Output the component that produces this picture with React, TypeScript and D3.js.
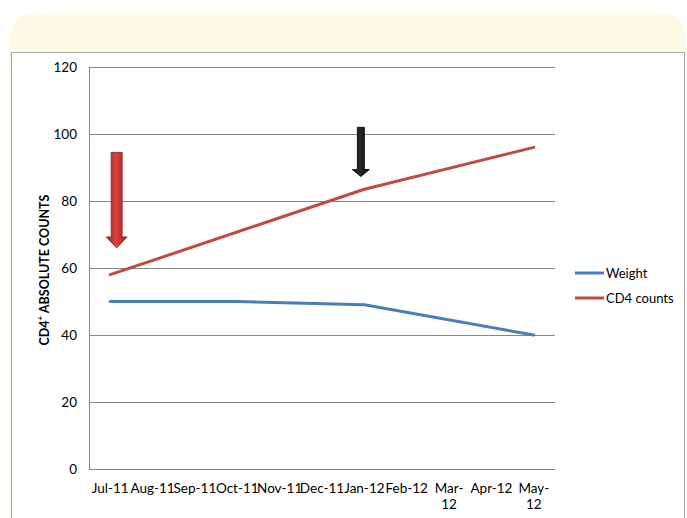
import { useEffect, useRef } from "react";
import * as d3 from "d3";

const months = ["Jul-11", "Aug-11", "Sep-11", "Oct-11", "Nov-11", "Dec-11", "Jan-12", "Feb-12", "Mar-12", "Apr-12", "May-12"];
// Excel wrapped these two labels onto two lines
const wrappedMonths = ["Mar-12", "May-12"];
const weight: (number | null)[] = [50, null, null, 50, null, null, 49, null, null, null, 40];
const cd4: (number | null)[] = [58, null, null, null, null, null, 83.5, null, null, null, 96];
const yTicks = [0, 20, 40, 60, 80, 100, 120];
const seriesNames = ["Weight", "CD4 counts"];

const W = 687;
const H = 518;

export default function App() {
  const svgRef = useRef<SVGSVGElement>(null);

  useEffect(() => {
    if (!svgRef.current) return;
    const svg = d3.select(svgRef.current);
    svg.selectAll("*").remove();

    const font = "Lato, 'Open Sans', sans-serif";
    const margin = { top: 67, left: 89, right: 132, bottom: 49 };
    const plotW = W - margin.left - margin.right;
    const plotH = H - margin.top - margin.bottom;

    const defs = svg.append("defs");
    const redGrad = defs.append("linearGradient").attr("id", "redArrow").attr("x1", 0).attr("x2", 1).attr("y1", 0).attr("y2", 0);
    redGrad.append("stop").attr("offset", "0%").attr("stop-color", "#931f1d");
    redGrad.append("stop").attr("offset", "45%").attr("stop-color", "#d9423e");
    redGrad.append("stop").attr("offset", "100%").attr("stop-color", "#9a2522");
    const darkGrad = defs.append("linearGradient").attr("id", "blackArrow").attr("x1", 0).attr("x2", 1).attr("y1", 0).attr("y2", 0);
    darkGrad.append("stop").attr("offset", "0%").attr("stop-color", "#000");
    darkGrad.append("stop").attr("offset", "45%").attr("stop-color", "#2a2a2a");
    darkGrad.append("stop").attr("offset", "100%").attr("stop-color", "#000");

    // slide banner and frame
    svg.append("rect").attr("x", 10).attr("y", 13).attr("width", 676).attr("height", 80).attr("rx", 22).attr("fill", "#fffae6");
    svg.append("rect").attr("x", 9).attr("y", 52).attr("width", 677).attr("height", 480).attr("fill", "#fffae6");
    svg.append("rect").attr("x", 11.5).attr("y", 52.5).attr("width", 673).attr("height", 480)
      .attr("fill", "#fff").attr("stroke", "#a6a6a6").attr("stroke-width", 1);

    const g = svg.append("g").attr("transform", `translate(${margin.left},${margin.top})`);

    const x = d3.scaleBand<string>().domain(months).range([0, plotW]);
    const y = d3.scaleLinear().domain([0, 120]).range([plotH, 0]);
    const cx = (m: string) => x(m)! + x.bandwidth() / 2;

    // gridlines
    g.selectAll(".grid")
      .data(yTicks)
      .join("line")
      .attr("x1", 0)
      .attr("x2", plotW)
      .attr("y1", (d) => Math.round(y(d)) + 0.5)
      .attr("y2", (d) => Math.round(y(d)) + 0.5)
      .attr("stroke", "#868686")
      .attr("stroke-width", 1);
    g.append("line").attr("x1", 0.5).attr("x2", 0.5).attr("y1", 0).attr("y2", plotH + 0.5).attr("stroke", "#868686");

    g.selectAll(".ytick")
      .data(yTicks)
      .join("text")
      .attr("x", -12)
      .attr("y", (d) => y(d))
      .attr("text-anchor", "end")
      .attr("dominant-baseline", "central")
      .attr("font-family", font)
      .attr("font-size", 13.5)
      .attr("fill", "#000")
      .text((d) => d);

    const xt = g.selectAll(".xtick")
      .data(months)
      .join("text")
      .attr("text-anchor", "middle")
      .attr("font-family", font)
      .attr("font-size", 13.5)
      .attr("fill", "#000")
      .attr("transform", (d) => `translate(${cx(d)},${plotH + 24})`);
    xt.each(function (d) {
      const t = d3.select(this);
      const lines = wrappedMonths.includes(d) ? [d.split("-")[0] + "-", d.split("-")[1]] : [d];
      lines.forEach((l, i) => t.append("tspan").attr("x", 0).attr("dy", i === 0 ? 0 : 16).text(l));
    });

    g.append("text")
      .attr("transform", `translate(${44 - margin.left},${270 - margin.top}) rotate(-90)`)
      .attr("text-anchor", "middle")
      .attr("dominant-baseline", "central")
      .attr("font-family", font)
      .attr("font-weight", "bold")
      .attr("font-size", 12.5)
      .attr("fill", "#000")
      .html("CD4<tspan dy='-4' font-size='8'>+</tspan><tspan dy='4'> ABSOLUTE COUNTS</tspan>");

    const colors = ["#4a7ebb", "#be4b48"];
    const toPts = (vals: (number | null)[]) =>
      months.map((m, i) => ({ m, v: vals[i] })).filter((p) => p.v !== null) as { m: string; v: number }[];
    const line = d3.line<{ m: string; v: number }>().x((d) => cx(d.m)).y((d) => y(d.v));

    [weight, cd4].forEach((s, i) => {
      g.append("path")
        .attr("d", line(toPts(s)))
        .attr("fill", "none")
        .attr("stroke", colors[i])
        .attr("stroke-width", 3)
        .attr("stroke-linecap", "round")
        .attr("stroke-linejoin", "round");
    });

    // annotation arrows
    const arrow = (xc: number, yTop: number, yTip: number, shaftW: number, headW: number, headH: number, fill: string, stroke: string) => {
      const p = d3.path();
      p.moveTo(xc - shaftW / 2, yTop);
      p.lineTo(xc + shaftW / 2, yTop);
      p.lineTo(xc + shaftW / 2, yTip - headH);
      p.lineTo(xc + headW / 2, yTip - headH);
      p.lineTo(xc, yTip);
      p.lineTo(xc - headW / 2, yTip - headH);
      p.lineTo(xc - shaftW / 2, yTip - headH);
      p.closePath();
      g.append("path").attr("d", p.toString()).attr("fill", fill).attr("stroke", stroke).attr("stroke-width", 0.8);
    };
    arrow(cx("Jul-11") + 6.5, y(94.5), y(66), 11, 21, 11, "url(#redArrow)", "#8a1f1d");
    arrow(cx("Jan-12") - 3.5, y(102), y(87.3), 7, 17, 7, "url(#blackArrow)", "#000");

    // legend
    const legend = svg.append("g").attr("transform", "translate(575,273)");
    seriesNames.forEach((name, i) => {
      const row = legend.append("g").attr("transform", `translate(0,${i * 25})`);
      row.append("line").attr("x1", 0).attr("x2", 29).attr("y1", 0).attr("y2", 0).attr("stroke", colors[i]).attr("stroke-width", 3);
      row.append("text")
        .attr("x", 31)
        .attr("y", 0)
        .attr("dominant-baseline", "central")
        .attr("font-family", font)
        .attr("font-size", 13)
        .attr("fill", "#000")
        .text(name);
    });
  }, []);

  return (
    <div style={{ position: "absolute", left: 0, top: 0 }}>
      <svg ref={svgRef} width={W} height={H} style={{ display: "block" }} />
    </div>
  );
}
